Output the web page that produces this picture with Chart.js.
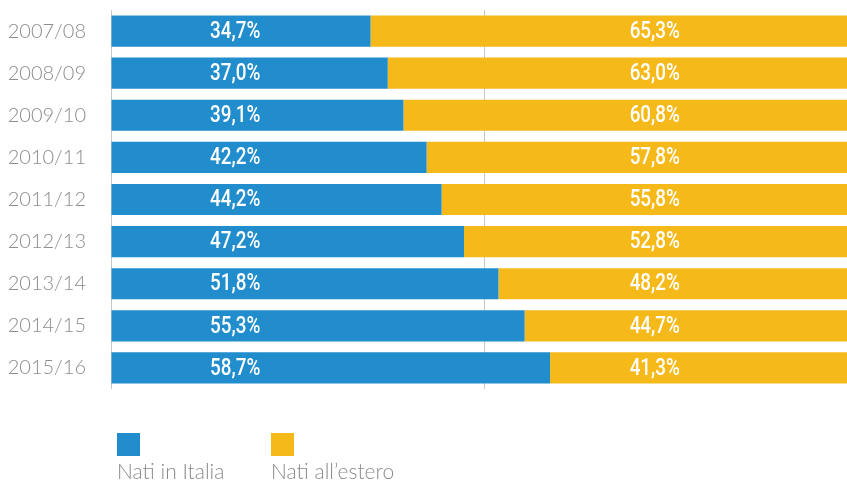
<!DOCTYPE html>
<html>
<head>
<meta charset="utf-8">
<script src="https://cdn.jsdelivr.net/npm/chart.js@4/dist/chart.umd.min.js"></script>
<style>
  html, body { margin: 0; padding: 0; background: #fff; }
  #wrap { width: 847px; height: 481px; }
</style>
</head>
<body>
<div id="wrap"><canvas id="chart" width="847" height="481"></canvas></div>
<script>
const years = ["2007/08", "2008/09", "2009/10", "2010/11", "2011/12", "2012/13", "2013/14", "2014/15", "2015/16"];
const natiItalia = [34.7, 37.0, 39.1, 42.2, 44.2, 47.2, 51.8, 55.3, 58.7];
const natiEstero = [65.3, 63.0, 60.8, 57.8, 55.8, 52.8, 48.2, 44.7, 41.3];
const seriesNames = ["Nati in Italia", "Nati all\u2019estero"];
const blue = "#218dcd";
const yellow = "#f6b91a";

// etichette dei valori, in posizione fissa dentro ogni barra (font stretto)
const valueLabels = {
    id: "valueLabels",
    afterDatasetsDraw(chart) {
        const ctx = chart.ctx;
        const xScale = chart.scales.x;
        const anchors = [16.6, 72.7];
        const squeeze = 0.82;
        ctx.save();
        ctx.fillStyle = "#fff";
        ctx.font = "500 23px Roboto, sans-serif";
        ctx.textAlign = "center";
        ctx.textBaseline = "middle";
        chart.data.datasets.forEach((ds, d) => {
            const meta = chart.getDatasetMeta(d);
            meta.data.forEach((bar, i) => {
                const txt = ds.data[i].toFixed(1).replace(".", ",") + "%";
                ctx.save();
                ctx.translate(xScale.getPixelForValue(anchors[d]), bar.y + 1);
                ctx.scale(squeeze, 1);
                ctx.fillText(txt, 0, 0);
                ctx.restore();
            });
        });
        ctx.restore();
    }
};

// legenda: quadrato sopra, testo sotto
const squareLegend = {
    id: "squareLegend",
    afterDraw(chart) {
        const ctx = chart.ctx;
        const left = chart.chartArea.left;
        const offsets = [6, 160];
        ctx.save();
        ctx.font = "300 21px Lato, sans-serif";
        ctx.textAlign = "left";
        ctx.textBaseline = "alphabetic";
        chart.data.datasets.forEach((ds, d) => {
            const x = left + offsets[d];
            ctx.fillStyle = ds.backgroundColor;
            ctx.fillRect(x, 433, 23, 23);
            ctx.fillStyle = "#8a8a8a";
            ctx.fillText(ds.label, x, 479);
        });
        ctx.restore();
    }
};

new Chart(document.getElementById("chart").getContext("2d"), {
    type: "bar",
    data: {
        labels: years,
        datasets: [
            { label: seriesNames[0], data: natiItalia, backgroundColor: blue },
            { label: seriesNames[1], data: natiEstero, backgroundColor: yellow }
        ]
    },
    options: {
        indexAxis: "y",
        responsive: false,
        animation: false,
        layout: { padding: { top: 10, bottom: 92, right: 0, left: 0 } },
        categoryPercentage: 1,
        barPercentage: 0.74,
        plugins: {
            legend: { display: false },
            tooltip: { enabled: false }
        },
        scales: {
            x: {
                stacked: true,
                min: 0,
                max: 98.4,
                afterBuildTicks(scale) {
                    scale.ticks = [{ value: 0 }, { value: 50 }];
                },
                ticks: { display: false },
                grid: { color: "#c8c8c8", lineWidth: 1, drawTicks: false },
                border: { display: false }
            },
            y: {
                stacked: true,
                afterFit(scale) {
                    scale.width = 111;
                    scale.paddingTop = 0;
                    scale.paddingBottom = 0;
                },
                ticks: {
                    color: "#8d8d8d",
                    padding: 25,
                    font: { family: "Lato", weight: "300", size: 20 }
                },
                grid: { display: false, drawTicks: false },
                border: { display: false }
            }
        }
    },
    plugins: [valueLabels, squareLegend]
});
</script>
</body>
</html>
